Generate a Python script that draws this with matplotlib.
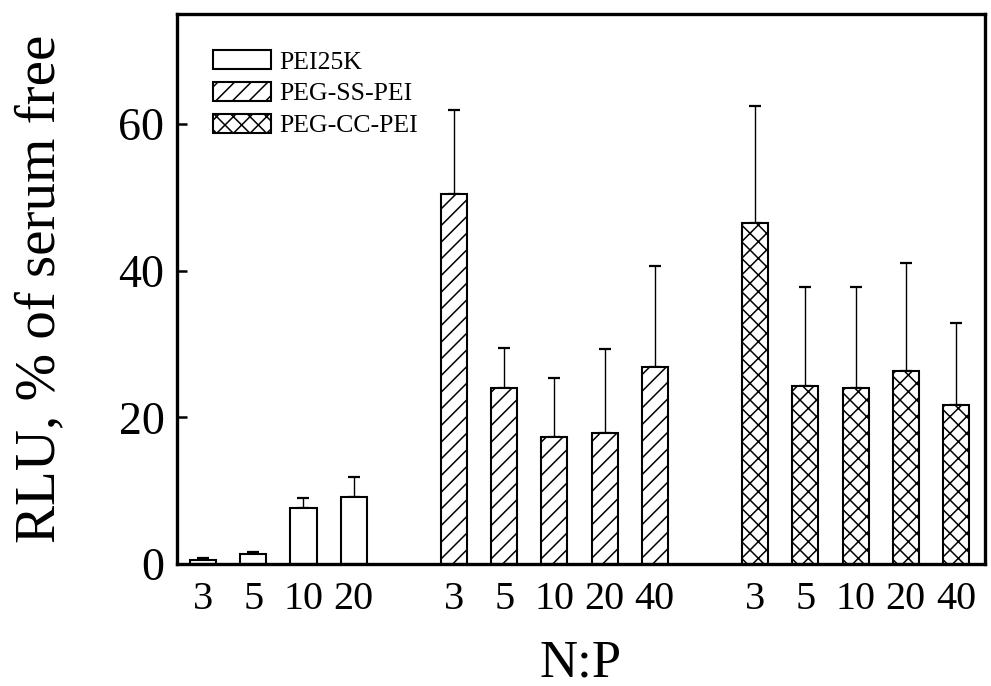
import matplotlib
matplotlib.use("Agg")
import matplotlib.pyplot as plt
import numpy as np

plt.rcParams['font.family'] = ['Liberation Serif', 'DejaVu Serif']
plt.rcParams['hatch.linewidth'] = 1.1

# N:P ratios per polymer
np_pei = ["3", "5", "10", "20"]
np_ss = ["3", "5", "10", "20", "40"]
np_cc = ["3", "5", "10", "20", "40"]

# RLU relative to serum-free transfection (%), mean and upper SD
pei_mean = [0.5, 1.3, 7.6, 9.2]
pei_sd = [0.3, 0.3, 1.4, 2.6]
ss_mean = [50.5, 24.0, 17.3, 17.8, 26.8]
ss_sd = [11.4, 5.4, 8.1, 11.5, 13.9]
cc_mean = [46.5, 24.3, 24.0, 26.3, 21.7]
cc_sd = [16.0, 13.5, 13.8, 14.7, 11.1]

series = [
    ("PEI25K", np_pei, pei_mean, pei_sd, ""),
    ("PEG-SS-PEI", np_ss, ss_mean, ss_sd, "//"),
    ("PEG-CC-PEI", np_cc, cc_mean, cc_sd, "xx"),
]

fig = plt.figure(figsize=(9.91, 6.86), dpi=100)
ax = fig.add_axes([0.1786, 0.1778, 0.8154, 0.8018])

bar_w = 0.52
start = 0
ticks, ticklabels, handles = [], [], []
for name, labels, mean, sd, hatch in series:
    x = start + np.arange(len(labels))
    bars = ax.bar(x, mean, width=bar_w, color="white", edgecolor="black",
                  linewidth=1.5, hatch=hatch, label=name, zorder=2)
    ax.errorbar(x, mean, yerr=[np.zeros(len(sd)), sd], fmt="none",
                ecolor="black", elinewidth=1.0, capsize=4, capthick=1.6,
                zorder=1)
    handles.append(bars)
    ticks.extend(x)
    ticklabels.extend(labels)
    start += len(labels) + 1

ax.set_xlim(-0.52, 15.58)
ax.set_ylim(0, 75)
ax.set_yticks([0, 20, 40, 60])
ax.set_xticks(ticks)
ax.set_xticklabels(ticklabels)

ax.tick_params(axis="y", direction="in", length=7, width=1.8,
               labelsize=33, pad=9)
ax.tick_params(axis="x", length=0, labelsize=29, pad=12)

for sp in ax.spines.values():
    sp.set_linewidth(2.4)

ax.set_ylabel("RLU, % of serum free", fontsize=41)
ax.yaxis.set_label_coords(-0.137, 0.5)
ax.set_xlabel("N:P", fontsize=38, labelpad=16)

ax.legend(handles=handles, loc="upper left", bbox_to_anchor=(0.045, 0.935),
          frameon=False, fontsize=18.5, handlelength=2.25, handleheight=0.8,
          handletextpad=0.3, labelspacing=0.32, borderpad=0, borderaxespad=0)

fig.savefig("out.png", dpi=100)
